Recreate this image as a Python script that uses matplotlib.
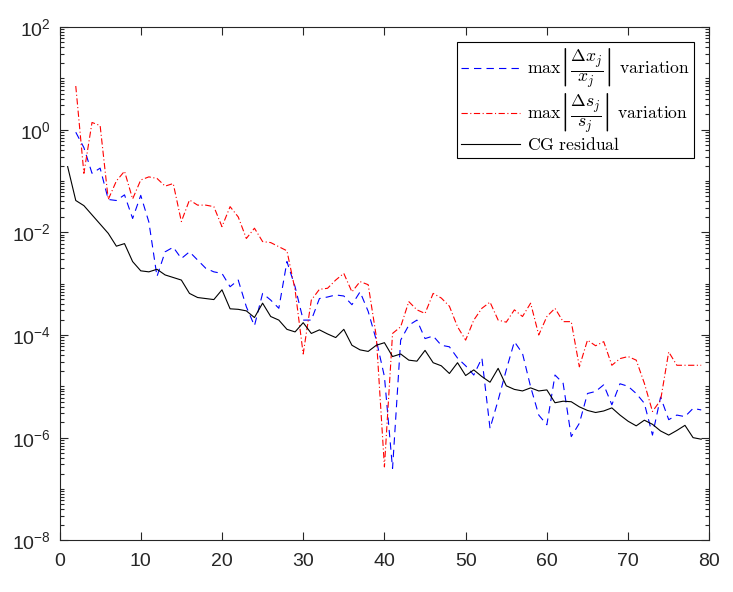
import numpy as np
import matplotlib.pyplot as plt
from matplotlib.ticker import LogLocator, FixedLocator, NullFormatter

plt.rcParams['font.family'] = ['Liberation Sans', 'DejaVu Sans']
plt.rcParams['mathtext.fontset'] = 'cm'
plt.rcParams['lines.scale_dashes'] = False

# iteration numbers
iter_cg = np.arange(1, 80)
iter_var = np.arange(2, 80)

# values, as log10 exponents
log_cg_residual = [
    -0.72, -1.38, -1.48, -1.66, -1.84, -2.02, -2.27, -2.22, -2.57, -2.75,
    -2.77, -2.72, -2.83, -2.88, -2.93, -3.19, -3.27, -3.29, -3.31, -3.12,
    -3.49, -3.50, -3.53, -3.66, -3.38, -3.64, -3.71, -3.89, -3.94, -3.76,
    -3.97, -3.90, -3.98, -4.05, -3.89, -4.20, -4.29, -4.32, -4.20, -4.15,
    -4.42, -4.37, -4.49, -4.51, -4.30, -4.54, -4.60, -4.75, -4.54, -4.79,
    -4.68, -4.81, -4.92, -4.65, -4.99, -5.06, -5.09, -5.03, -5.09, -5.07,
    -5.32, -5.29, -5.30, -5.40, -5.47, -5.51, -5.48, -5.42, -5.56, -5.68,
    -5.77, -5.66, -5.74, -5.87, -5.95, -5.86, -5.76, -6.00, -6.03,
]

log_dx_var = [
    -0.05, -0.35, -0.85, -0.75, -1.36, -1.38, -1.27, -1.73, -1.28,
    -1.80, -2.86, -2.38, -2.29, -2.51, -2.38, -2.54, -2.70, -2.77, -2.80,
    -3.06, -2.93, -3.45, -3.82, -3.19, -3.32, -3.48, -2.57, -3.06, -3.71,
    -3.71, -3.29, -3.26, -3.22, -3.24, -3.41, -3.16, -3.54, -4.10, -4.81,
    -6.60, -4.10, -3.81, -3.71, -4.07, -4.02, -4.20, -4.23, -4.45, -4.60,
    -4.78, -4.45, -5.82, -5.27, -4.68, -4.13, -4.36, -5.01, -5.56, -5.75,
    -4.78, -4.94, -5.98, -5.72, -5.14, -5.10, -4.97, -5.36, -4.95, -5.00,
    -5.14, -5.33, -5.95, -5.21, -5.65, -5.56, -5.59, -5.43, -5.46,
]

log_ds_var = [
    0.85, -0.85, 0.14, 0.08, -1.36, -1.00, -0.81, -1.35, -0.98,
    -0.92, -0.95, -1.10, -1.05, -1.79, -1.37, -1.47, -1.47, -1.50, -1.89,
    -1.50, -1.70, -2.12, -1.92, -2.18, -2.20, -2.28, -2.36, -3.12, -4.37,
    -3.32, -3.11, -3.09, -2.93, -2.80, -3.16, -2.96, -3.02, -4.03, -6.57,
    -3.97, -3.84, -3.35, -3.51, -3.58, -3.19, -3.28, -3.44, -3.84, -4.10,
    -3.71, -3.48, -3.36, -3.71, -3.75, -3.51, -3.64, -3.38, -4.00, -3.64,
    -3.48, -3.74, -3.74, -4.62, -4.10, -4.21, -4.13, -4.59, -4.46, -4.42,
    -4.49, -4.94, -5.49, -5.27, -4.33, -4.59, -4.59, -4.59, -4.59,
]

cg_residual = np.power(10.0, log_cg_residual)
dx_var = np.power(10.0, log_dx_var)
ds_var = np.power(10.0, log_ds_var)

fig = plt.figure(figsize=(7.33, 5.92), dpi=100)
ax = fig.add_axes([0.0812, 0.0873, 0.8865, 0.8671])

ax.semilogy(iter_var, dx_var, color='#0000ff', lw=0.8, dashes=(5.3, 3.7),
            label=r'$\max\left|\dfrac{\Delta x_j}{x_j}\right|\ \mathrm{variation}$')
ax.semilogy(iter_var, ds_var, color='#ff0000', lw=0.8, dashes=(4.5, 1.8, 0.8, 1.8),
            label=r'$\max\left|\dfrac{\Delta s_j}{s_j}\right|\ \mathrm{variation}$')
ax.semilogy(iter_cg, cg_residual, color='black', lw=0.8,
            label=r'$\mathrm{CG\ residual}$')

ax.set_xlim(0, 80)
ax.set_ylim(1e-8, 1e2)
ax.set_xticks(np.arange(0, 81, 10))
ax.yaxis.set_major_locator(FixedLocator([1e-8, 1e-6, 1e-4, 1e-2, 1e0, 1e2]))
ax.yaxis.set_minor_locator(LogLocator(base=10, subs=np.arange(1, 10), numticks=100))
ax.yaxis.set_minor_formatter(NullFormatter())

ax.tick_params(which='both', direction='in', top=True, right=True,
               labelsize=14, colors='#262626', width=0.8)
ax.tick_params(which='major', length=5.5)
ax.tick_params(which='minor', length=3)
ax.tick_params(axis='x', pad=9)
ax.tick_params(axis='y', pad=6)
for s in ax.spines.values():
    s.set_linewidth(0.8)
    s.set_color('#262626')

leg = ax.legend(loc='upper right', bbox_to_anchor=(0.9765, 0.9708), borderaxespad=0,
                fontsize=12.7, handlelength=3.3, handletextpad=0.4, labelspacing=0.1,
                fancybox=False, framealpha=1, edgecolor='black', borderpad=0.25)
leg.get_frame().set_linewidth(0.8)

fig.savefig('out.png', dpi=100)
